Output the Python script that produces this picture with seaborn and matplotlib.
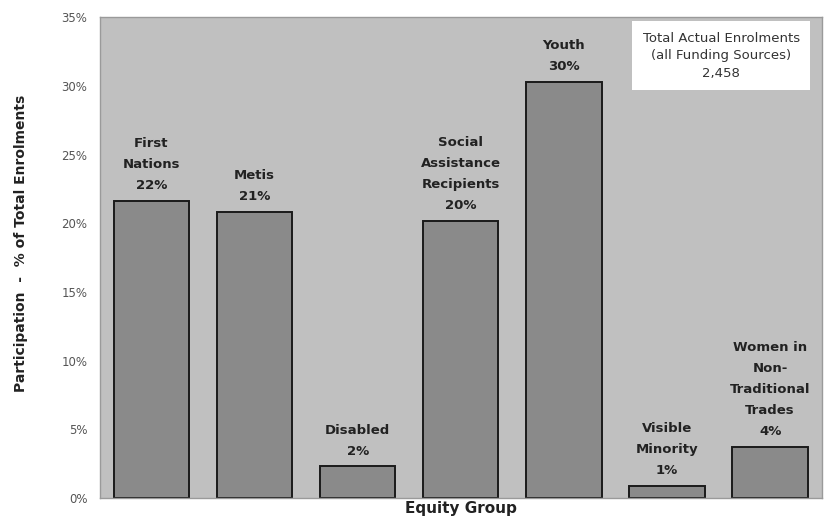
import matplotlib
matplotlib.use("Agg")
import matplotlib.pyplot as plt
import seaborn as sns
import pandas as pd
from matplotlib.ticker import FuncFormatter

# Equity group participation as a share of total enrolments (%)
groups = ["First\nNations", "Metis", "Disabled", "Social\nAssistance\nRecipients",
          "Youth", "Visible\nMinority", "Women in\nNon-\nTraditional\nTrades"]
participation = [21.6, 20.8, 2.3, 20.2, 30.3, 0.9, 3.7]
y_ticks = [0, 5, 10, 15, 20, 25, 30, 35]
total_note = "Total Actual Enrolments\n(all Funding Sources)\n2,458"

df = pd.DataFrame({"group": groups, "pct": participation})

sns.set_theme(style="white")
plt.rcParams["font.family"] = ["DejaVu Sans"]

fig = plt.figure(figsize=(8.25, 5.21), dpi=100)
ax = fig.add_axes([0.121, 0.044, 0.875, 0.923])
ax.set_facecolor("#c0c0c0")

sns.barplot(data=df, x="group", y="pct", color="#8a8a8a", saturation=1,
            width=0.73, edgecolor="#1a1a1a", linewidth=1.4, ax=ax)

for bar, label, v in zip(ax.patches, groups, participation):
    ax.text(bar.get_x() + bar.get_width() / 2, bar.get_height() + 0.65,
            f"{label}\n{v:.0f}%", ha="center", va="bottom", fontsize=9.5,
            fontweight="bold", color="#222222", linespacing=1.8)

ax.set_ylim(0, 35)
ax.set_xlim(-0.5, len(groups) - 0.5)
ax.set_yticks(y_ticks)
ax.yaxis.set_major_formatter(FuncFormatter(lambda v, _: f"{v:.0f}%"))
ax.tick_params(axis="y", length=0, labelsize=8.5, labelcolor="#555555", pad=9)
ax.set_xticks([])
ax.set_xlabel("Equity Group", fontsize=11, fontweight="bold", color="#222222", labelpad=2)
ax.set_ylabel("Participation  -  % of Total Enrolments", fontsize=10,
              fontweight="bold", color="#222222")
ax.yaxis.set_label_coords(-0.1, 0.53)

for side in ["left", "right", "top", "bottom"]:
    ax.spines[side].set_color("#9a9a9a")
    ax.spines[side].set_linewidth(1.0)

ax.text(0.861, 0.97, total_note, transform=ax.transAxes, ha="center", va="top",
        fontsize=9.5, color="#333333", linespacing=1.45,
        bbox=dict(boxstyle="square,pad=0.8", facecolor="white", edgecolor="none"))

fig.savefig("out.png", dpi=100)
